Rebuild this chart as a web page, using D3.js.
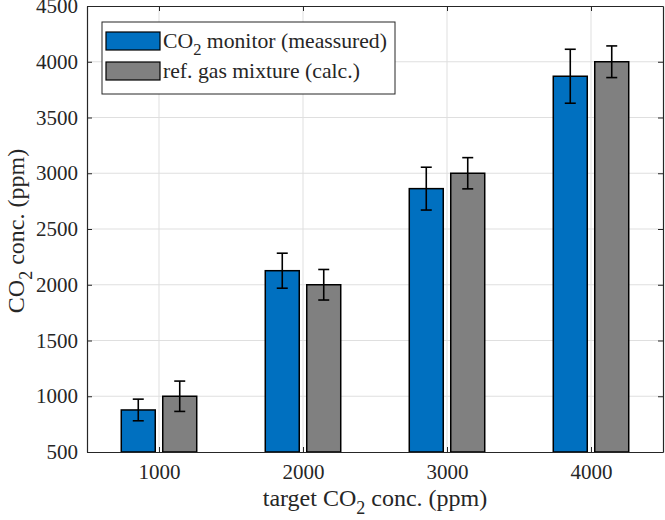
<!DOCTYPE html>
<html><head><meta charset="utf-8">
<script src="https://cdn.jsdelivr.net/npm/d3@7/dist/d3.min.js"></script>
<style>body{margin:0;background:#fff;} svg text{font-family:"Liberation Serif","Times New Roman",serif;fill:#262626;}</style>
</head><body><svg id="c" width="665" height="520"></svg>
<script>
const categories = [1000, 2000, 3000, 4000];
const monitorValues = [877, 2126, 2862, 3870];
const monitorErrors = [97, 157, 192, 242];
const refValues = [1000, 2000, 3000, 4000];
const refErrors = [136, 137, 140, 142];
const yTicks = [500, 1000, 1500, 2000, 2500, 3000, 3500, 4000, 4500];
const colors = {monitor: "#0070c0", ref: "#808080"};

const L = 87, R = 663, T = 6, B = 452;
const svg = d3.select("#c");
const x = d3.scaleLinear().domain([500, 4500]).range([L, R]);
const y = d3.scaleLinear().domain([500, 4500]).range([B, T]);
const axisColor = "#262626";

// grid
const g = svg.append("g");
g.selectAll(".gy").data(yTicks.slice(1, -1)).join("line")
  .attr("x1", L).attr("x2", R).attr("y1", d => y(d)).attr("y2", d => y(d))
  .attr("stroke", "#dfdfdf").attr("stroke-width", 1);
g.selectAll(".gx").data(categories).join("line")
  .attr("y1", T).attr("y2", B).attr("x1", d => x(d)).attr("x2", d => x(d))
  .attr("stroke", "#dfdfdf").attr("stroke-width", 1);

// bars
const barW = 236, off = 144;
const data = [];
categories.forEach((c, i) => {
  data.push({s: "monitor", c, v: monitorValues[i], e: monitorErrors[i], o: -off});
  data.push({s: "ref", c, v: refValues[i], e: refErrors[i], o: off});
});
svg.append("g").selectAll("rect").data(data).join("rect")
  .attr("x", d => x(d.c + d.o - barW / 2))
  .attr("width", d => x(d.c + d.o + barW / 2) - x(d.c + d.o - barW / 2))
  .attr("y", d => y(d.v)).attr("height", d => y(500) - y(d.v))
  .attr("fill", d => colors[d.s]).attr("stroke", "#000").attr("stroke-width", 1.5);

// error bars
const eb = svg.append("g").attr("stroke", "#000").attr("stroke-width", 1.6);
data.forEach(d => {
  const cx = x(d.c + d.o);
  eb.append("line").attr("x1", cx).attr("x2", cx).attr("y1", y(d.v + d.e)).attr("y2", y(d.v - d.e));
  eb.append("line").attr("x1", cx - 5.5).attr("x2", cx + 5.5).attr("y1", y(d.v + d.e)).attr("y2", y(d.v + d.e));
  eb.append("line").attr("x1", cx - 5.5).attr("x2", cx + 5.5).attr("y1", y(d.v - d.e)).attr("y2", y(d.v - d.e));
});

// axes
const tickLen = 5;
const yAxis = d3.axisLeft(y).tickValues(yTicks).tickSizeInner(-tickLen).tickSizeOuter(0).tickPadding(9).tickFormat(d3.format("d"));
const yg = svg.append("g").attr("transform", `translate(${L},0)`).call(yAxis);
const yAxisR = d3.axisRight(y).tickValues(yTicks).tickSizeInner(-tickLen).tickSizeOuter(0).tickFormat("");
const ygr = svg.append("g").attr("transform", `translate(${R},0)`).call(yAxisR);
const xAxis = d3.axisBottom(x).tickValues(categories).tickSizeInner(-tickLen).tickSizeOuter(0).tickPadding(12).tickFormat(d3.format("d"));
const xg = svg.append("g").attr("transform", `translate(0,${B})`).call(xAxis);
const xAxisT = d3.axisTop(x).tickValues(categories).tickSizeInner(-tickLen).tickSizeOuter(0).tickFormat("");
const xgt = svg.append("g").attr("transform", `translate(0,${T})`).call(xAxisT);
[yg, ygr, xg, xgt].forEach(a => {
  a.select(".domain").attr("stroke", axisColor).attr("stroke-width", 1.2);
  a.selectAll(".tick line").attr("stroke", axisColor);
  a.selectAll("text").attr("font-size", 21).attr("fill", axisColor)
    .style("font-family", '"Liberation Serif", serif');
});

// axis labels
const xl = svg.append("text").attr("x", (L + R) / 2).attr("y", 506).attr("text-anchor", "middle").attr("font-size", 24);
xl.append("tspan").text("target CO");
xl.append("tspan").text("2").attr("font-size", 18).attr("dy", 8);
xl.append("tspan").text(" conc. (ppm)").attr("dy", -8);
const yl = svg.append("text").attr("transform", `translate(24,${(T + B) / 2 + 2}) rotate(-90)`).attr("text-anchor", "middle").attr("font-size", 24);
yl.append("tspan").text("CO");
yl.append("tspan").text("2").attr("font-size", 18).attr("dy", 8);
yl.append("tspan").text(" conc. (ppm)").attr("dy", -8);

// legend
const lg = svg.append("g");
lg.append("rect").attr("x", 102).attr("y", 22).attr("width", 293).attr("height", 72)
  .attr("fill", "#fff").attr("stroke", axisColor).attr("stroke-width", 1);
const legendItems = [
  {s: "monitor", parts: [["CO", 0, 21.7], ["2", 7, 16.5], [" monitor (meassured)", -7, 21.7]]},
  {s: "ref", parts: [["ref. gas mixture (calc.)", 0, 21.7]]}
];
legendItems.forEach((it, i) => {
  const yy = 32 + i * 30;
  lg.append("rect").attr("x", 106).attr("y", yy).attr("width", 54).attr("height", 18)
    .attr("fill", colors[it.s]).attr("stroke", "#000").attr("stroke-width", 1.2);
  const t = lg.append("text").attr("x", 163).attr("y", yy + 16).attr("font-size", 21.7);
  it.parts.forEach(p => t.append("tspan").text(p[0]).attr("dy", p[1]).attr("font-size", p[2]));
});
</script></body></html>
